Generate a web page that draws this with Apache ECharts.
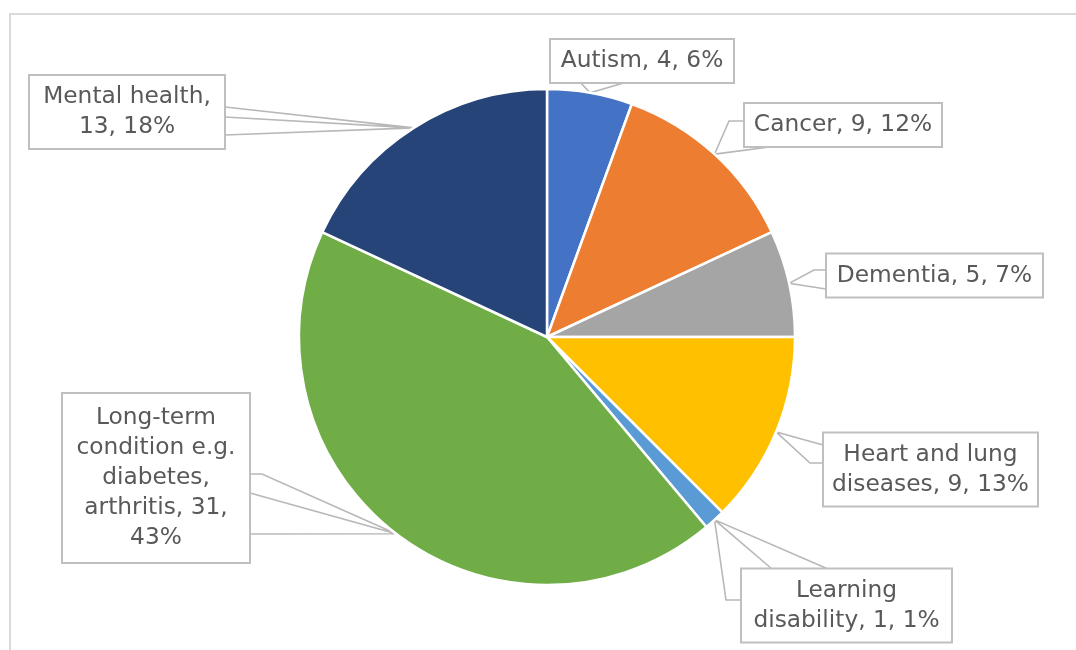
<!DOCTYPE html>
<html>
<head>
<meta charset="utf-8">
<script src="https://cdn.jsdelivr.net/npm/echarts@6/dist/echarts.min.js"></script>
<style>
  html, body { margin: 0; padding: 0; background: #ffffff; }
  #chart { width: 1076px; height: 650px; }
</style>
</head>
<body>
<div id="chart"></div>
<script>
// ---- data ----
const categories = ['Autism', 'Cancer', 'Dementia', 'Heart and lung diseases', 'Learning disability', 'Long-term condition e.g. diabetes, arthritis', 'Mental health'];
const values = [4, 9, 5, 9, 1, 31, 13];
const percentLabels = ['6%', '12%', '7%', '13%', '1%', '43%', '18%'];

// ---- styling / layout (kept separate from data) ----
const colors = ['#4472c4', '#ed7d31', '#a5a5a5', '#ffc000', '#5b9bd5', '#70ad47', '#264478'];
// word indices after which the label text wraps (as in the reference's label boxes)
const labelBreaks = [[], [], [], [2], [0], [0, 2, 3, 5], [1]];
const T = 'tip'; // placeholder for the slice point supplied by the library
const labelBoxes = [
  { c: [642, 61],      w: 184, pv: 6, line: [[580, 82], T, [627, 82]] },
  { c: [843, 125],     w: 198, pv: 6, line: [[743, 121], [729, 121], T, [777, 146]] },
  { c: [934.5, 275.5], w: 217, pv: 6, line: [[826, 270], [814, 270], T, [826, 289]] },
  { c: [930.5, 469.5], w: 215, pv: 6, line: [[823, 445], T, [810, 463], [823, 463]] },
  { c: [846.5, 605.5], w: 211, pv: 6, line: [[828, 569], T, [772, 569], T, [726, 600], [741, 600]] },
  { c: [156, 478],     w: 188, pv: 9, line: [[250, 474], [262, 474], T, [250, 493], T, [250, 534]] },
  { c: [127, 112],     w: 196, pv: 6, line: [[225, 107], T, [225, 117], T, [225, 135]] }
];
const PADH = 8, BORDER = 2;

function labelText(i) {
  const words = `${categories[i]}, ${values[i]}, ${percentLabels[i]}`.split(' ');
  let out = '';
  words.forEach((w, k) => {
    out += w;
    if (k < words.length - 1) out += labelBreaks[i].includes(k) ? '\n' : ' ';
  });
  return out;
}

const seriesData = categories.map((name, i) => ({
  name: name,
  value: values[i],
  itemStyle: { color: colors[i] },
  label: {
    width: labelBoxes[i].w - 2 * PADH - BORDER,
    padding: [labelBoxes[i].pv, PADH]
  }
}));

const chart = echarts.init(document.getElementById('chart'), null, { renderer: 'canvas' });
chart.setOption({
  animation: false,
  backgroundColor: '#ffffff',
  graphic: [{
    type: 'rect',
    shape: { x: 10, y: 14, width: 1200, height: 800 },
    style: { fill: 'none', stroke: '#d9d9d9', lineWidth: 2 },
    silent: true,
    z: -1
  }],
  series: [{
    type: 'pie',
    center: [547, 337],
    radius: 248,
    startAngle: 90,
    clockwise: true,
    avoidLabelOverlap: false,
    data: seriesData,
    itemStyle: { borderColor: '#ffffff', borderWidth: 2.5 },
    label: {
      show: true,
      position: 'outer',
      formatter: p => labelText(p.dataIndex),
      fontFamily: 'DejaVu Sans',
      fontSize: 23.3,
      lineHeight: 30,
      color: '#595959',
      backgroundColor: '#ffffff',
      borderColor: '#bfbfbf',
      borderWidth: BORDER,
      overflow: 'none',
      align: 'center'
    },
    labelLine: {
      show: true,
      length: 10,
      length2: 10,
      smooth: false,
      lineStyle: { color: '#b8b8b8', width: 1.6 }
    },
    labelLayout: function (params) {
      const spec = labelBoxes[params.dataIndex];
      const tip = params.labelLinePoints ? params.labelLinePoints[0] : [0, 0];
      return {
        x: spec.c[0],
        y: spec.c[1],
        align: 'center',
        verticalAlign: 'middle',
        labelLinePoints: spec.line.map(pt => pt === T ? [tip[0], tip[1]] : pt)
      };
    },
    emphasis: { disabled: true }
  }]
});
</script>
</body>
</html>
